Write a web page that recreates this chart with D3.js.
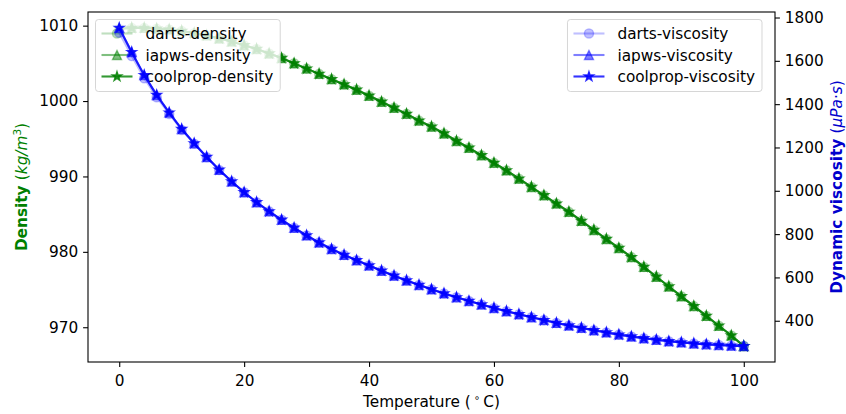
<!DOCTYPE html>
<meta charset="utf-8">
<html>
<head>
<style>
  body { margin: 0; background: #fff; }
  svg { font-family: "DejaVu Sans", sans-serif; }
</style>
</head>
<body>
<script src="https://d3js.org/d3.v7.min.js"></script>
<div id="chart"></div>
<script>

// temperatures (deg C)
var temps = [0,2,4,6,8,10,12,14,16,18,20,22,24,26,28,30,32,34,36,38,40,42,44,46,48,50,
             52,54,56,58,60,62,64,66,68,70,72,74,76,78,80,82,84,86,88,90,92,94,96,98,100];

// density (kg/m3)
var dartsDensity = [1009.6,1009.7,1009.7,1009.6,1009.5,1009.3,1009.0,1008.7,1008.3,1007.9,1007.4,1006.9,1006.3,1005.7,1005.0,1004.3,1003.6,1002.9,1002.2,1001.5,1000.7,999.9,999.1,998.3,997.4,996.6,995.7,994.7,993.8,992.8,991.8,990.8,989.7,988.6,987.5,986.4,985.3,984.1,982.9,981.7,980.5,979.3,978.0,976.7,975.4,974.1,972.8,971.5,970.2,968.9,967.5];
var iapwsDensity = [1009.6,1009.7,1009.7,1009.6,1009.5,1009.3,1009.0,1008.7,1008.3,1007.9,1007.4,1006.9,1006.3,1005.7,1005.0,1004.3,1003.6,1002.9,1002.2,1001.5,1000.7,999.9,999.1,998.3,997.4,996.6,995.7,994.7,993.8,992.8,991.8,990.8,989.7,988.6,987.5,986.4,985.3,984.1,982.9,981.7,980.5,979.3,978.0,976.7,975.4,974.1,972.8,971.5,970.2,968.9,967.5];
var coolpropDensity = [1009.6,1009.7,1009.7,1009.6,1009.5,1009.3,1009.0,1008.7,1008.3,1007.9,1007.4,1006.9,1006.3,1005.7,1005.0,1004.3,1003.6,1002.9,1002.2,1001.5,1000.7,999.9,999.1,998.3,997.4,996.6,995.7,994.7,993.8,992.8,991.8,990.8,989.7,988.6,987.5,986.4,985.3,984.1,982.9,981.7,980.5,979.3,978.0,976.7,975.4,974.1,972.8,971.5,970.2,968.9,967.5];

// dynamic viscosity (micro Pa s)
var dartsViscosity = [1730,1622,1520,1432,1355,1281,1217,1155,1096,1043,993,947,905,866,829,794,761,731,704,679,655,631,608,586,565,545,526,508,491,475,459,444,430,416,403,390,378,367,356,346,336,327,319,312,305,300,295,291,288,285,283];
var iapwsViscosity = [1752,1640,1534,1442,1361,1285,1219,1156,1097,1043,993,947,905,866,829,794,761,731,704,679,655,631,608,586,565,545,526,508,491,475,459,444,430,416,403,390,378,367,356,346,336,327,319,312,305,300,295,291,288,285,283];
var coolpropViscosity = [1752,1640,1534,1442,1361,1285,1219,1156,1097,1043,993,947,905,866,829,794,761,731,704,679,655,631,608,586,565,545,526,508,491,475,459,444,430,416,403,390,378,367,356,346,336,327,319,312,305,300,295,291,288,285,283];

var xTicks = [0, 20, 40, 60, 80, 100];
var densityTicks = [970, 980, 990, 1000, 1010];
var viscosityTicks = [400, 600, 800, 1000, 1200, 1400, 1600, 1800];

// matplotlib-like triangle_up marker
var triangleUp = {
  draw: function(ctx, size) {
    var r = Math.sqrt(size) / 2;
    ctx.moveTo(0, -r); ctx.lineTo(r, r); ctx.lineTo(-r, r); ctx.closePath();
  }
};

var markers = [
  {type: d3.symbolCircle, size: 66, alpha: 0.25},
  {type: triangleUp, size: 80, alpha: 0.5},
  {type: d3.symbolStar, size: 27, alpha: 0.8}
];

var densitySeries = [
  {name: "darts-density", values: dartsDensity},
  {name: "iapws-density", values: iapwsDensity},
  {name: "coolprop-density", values: coolpropDensity}
];
var viscositySeries = [
  {name: "darts-viscosity", values: dartsViscosity},
  {name: "iapws-viscosity", values: iapwsViscosity},
  {name: "coolprop-viscosity", values: coolpropViscosity}
];

var W = 846, H = 414;
var margin = {top: 12, right: 71, bottom: 52, left: 88},
    width = W - margin.left - margin.right,
    height = H - margin.top - margin.bottom;
var fs = 15.3;

var svg = d3.select("#chart").append("svg")
    .attr("width", W).attr("height", H);
var g = svg.append("g")
    .attr("transform", "translate(" + margin.left + "," + margin.top + ")");

// matplotlib default 5% margins
function padded(arrs) {
  var all = [].concat.apply([], arrs);
  var ext = d3.extent(all), p = (ext[1] - ext[0]) * 0.05;
  return [ext[0] - p, ext[1] + p];
}

var x = d3.scaleLinear().domain([-5, 105]).range([0, width]);
var yL = d3.scaleLinear()
    .domain(padded(densitySeries.map(function(s) { return s.values; })))
    .range([height, 0]);
var yR = d3.scaleLinear()
    .domain(padded(viscositySeries.map(function(s) { return s.values; })))
    .range([height, 0]);

function drawSeries(series, y, color) {
  series.forEach(function(s, i) {
    var m = markers[i];
    var pts = temps.map(function(t, j) { return [t, s.values[j]]; });
    g.append("path")
      .datum(pts)
      .attr("fill", "none")
      .attr("stroke", color)
      .attr("stroke-opacity", m.alpha)
      .attr("stroke-width", 2.1)
      .attr("d", d3.line().x(function(d) { return x(d[0]); }).y(function(d) { return y(d[1]); }));
    g.append("g").selectAll("path")
      .data(pts)
      .enter().append("path")
        .attr("transform", function(d) { return "translate(" + x(d[0]) + "," + y(d[1]) + ")"; })
        .attr("d", d3.symbol().type(m.type).size(m.size))
        .attr("fill", color)
        .attr("fill-opacity", m.alpha)
        .attr("stroke", color)
        .attr("stroke-opacity", m.alpha)
        .attr("stroke-width", 1.39);
  });
}

function drawLegend(series, color, side) {
  var lg = g.append("g");
  var box = lg.append("rect");
  var rowY = [14, 35.5, 57];
  var texts = [];
  series.forEach(function(s, i) {
    var m = markers[i];
    var row = lg.append("g").attr("transform", "translate(0," + rowY[i] + ")");
    row.append("line").attr("x1", 0).attr("x2", 31)
      .attr("stroke", color).attr("stroke-opacity", m.alpha).attr("stroke-width", 2.1);
    row.append("path").attr("transform", "translate(15.5,0)")
      .attr("d", d3.symbol().type(m.type).size(m.size))
      .attr("fill", color).attr("fill-opacity", m.alpha)
      .attr("stroke", color).attr("stroke-opacity", m.alpha).attr("stroke-width", 1.39);
    texts.push(row.append("text").attr("x", 44).attr("dy", "0.36em")
      .style("font-size", fs + "px").attr("fill", "#000").text(s.name));
  });
  var tw = d3.max(texts, function(t) { return t.node().getComputedTextLength(); });
  var bw = 6 + 44 + tw + 7, bh = 72;
  box.attr("x", -6).attr("y", 0).attr("width", bw).attr("height", bh)
    .attr("rx", 3).attr("fill", "#fff").attr("fill-opacity", 0.8)
    .attr("stroke", "#cccccc").attr("stroke-opacity", 0.8).attr("stroke-width", 1);
  var left = side === "left" ? 7.5 + 6 : width - 13 - bw + 6;
  lg.attr("transform", "translate(" + left + ",7.5)");
}

drawSeries(densitySeries, yL, "green");
drawLegend(densitySeries, "green", "left");
drawSeries(viscositySeries, yR, "blue");
drawLegend(viscositySeries, "blue", "right");

// axes
var fmt = d3.format("d");
var xAxis = g.append("g").attr("transform", "translate(0," + height + ")")
  .call(d3.axisBottom(x).tickValues(xTicks).tickFormat(fmt).tickSize(4.9).tickPadding(8));
var lAxis = g.append("g")
  .call(d3.axisLeft(yL).tickValues(densityTicks).tickFormat(fmt).tickSize(4.9).tickPadding(4.9));
var rAxis = g.append("g").attr("transform", "translate(" + width + ",0)")
  .call(d3.axisRight(yR).tickValues(viscosityTicks).tickFormat(fmt).tickSize(4.9).tickPadding(4.9));
[xAxis, lAxis, rAxis].forEach(function(a) {
  a.select(".domain").remove();
  a.selectAll("line").attr("stroke", "#000").attr("stroke-width", 1.1);
  a.selectAll("text").style("font-size", fs + "px").style("font-family", "DejaVu Sans").attr("fill", "#000");
});

g.append("rect").attr("width", width).attr("height", height)
  .attr("fill", "none").attr("stroke", "#000").attr("stroke-width", 1.1);

// axis labels
var xl = svg.append("text")
  .attr("x", margin.left + width / 2).attr("y", 407)
  .attr("text-anchor", "middle").style("font-size", fs + "px");
xl.append("tspan").text("Temperature (");
xl.append("tspan").attr("dy", -6).style("font-size", "10px").text(" \u2218 ");
xl.append("tspan").attr("dy", 6).text("C)");

var ll = svg.append("text")
  .attr("transform", "translate(27," + (margin.top + height / 2) + ") rotate(-90)")
  .attr("text-anchor", "middle").style("font-size", fs + "px").attr("fill", "green");
ll.append("tspan").style("font-weight", "bold").text("Density ");
ll.append("tspan").text("(");
ll.append("tspan").style("font-style", "italic").text("kg/m");
ll.append("tspan").attr("dy", -6).style("font-size", "10.5px").text("3");
ll.append("tspan").attr("dy", 6).text(")");

var rl = svg.append("text")
  .attr("transform", "translate(842," + (margin.top + height / 2) + ") rotate(-90)")
  .attr("text-anchor", "middle").style("font-size", fs + "px").attr("fill", "#0000cd");
rl.append("tspan").style("font-weight", "bold").text("Dynamic viscosity ");
rl.append("tspan").text("(");
rl.append("tspan").style("font-style", "italic").text("\u03bcPa");
rl.append("tspan").text("\u00b7");
rl.append("tspan").style("font-style", "italic").text("s");
rl.append("tspan").text(")");

</script>
</body>
</html>
